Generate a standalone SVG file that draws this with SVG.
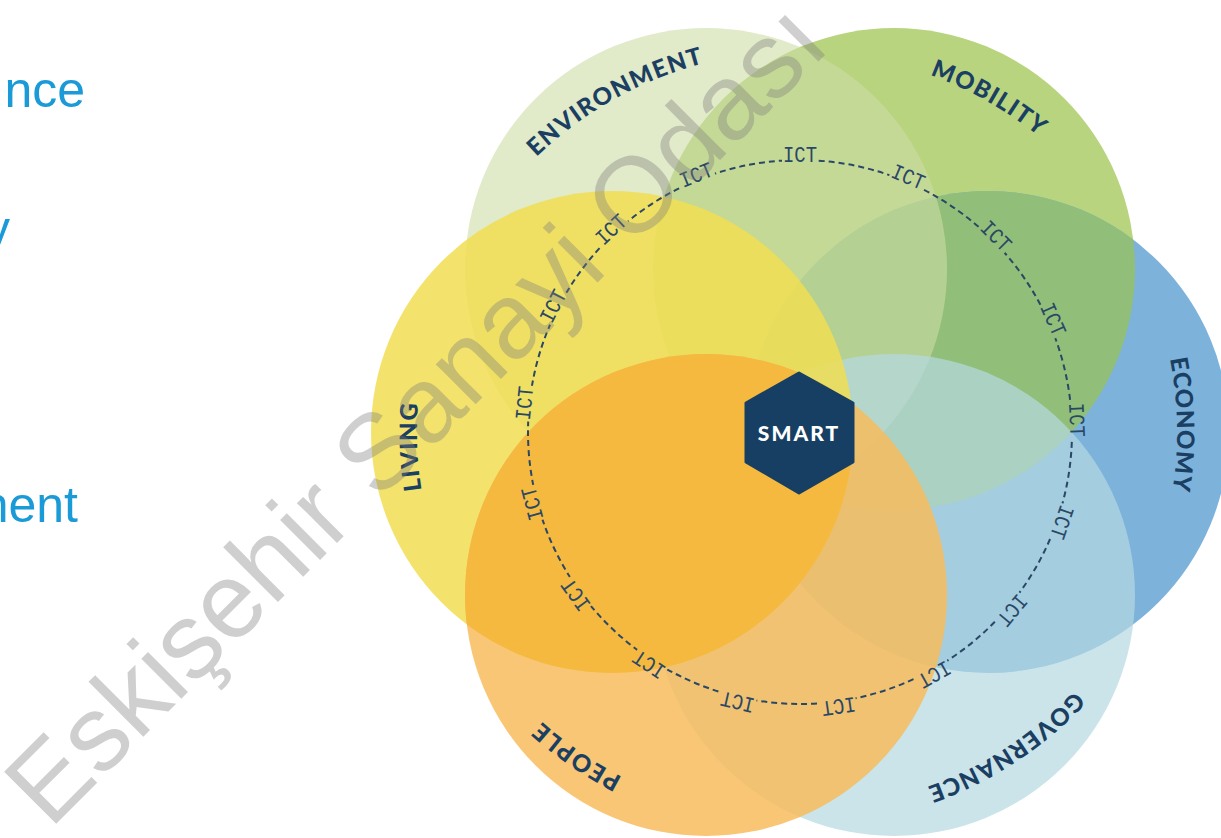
<svg xmlns="http://www.w3.org/2000/svg" xmlns:xlink="http://www.w3.org/1999/xlink" width="1221" height="838" viewBox="0 0 1221 838">
<style>
.lbl{font-family:Lato,"Open Sans","DejaVu Sans",sans-serif;font-weight:900;font-size:24px;fill:#1b3f62;letter-spacing:1.2px}
.ict{font-family:"Liberation Mono","DejaVu Sans Mono",monospace;font-size:22px;fill:#2a4866}
.side{font-family:"Liberation Sans",Arial,sans-serif;font-size:50px;fill:#1a9ad6}
.wm{font-family:"Liberation Sans",Arial,sans-serif;font-weight:400;font-size:107px;fill:#7a7a7a;fill-opacity:0.36}
</style>
<defs>
<path id="lp" d="M800,55 A377,377 0 1 1 800,809 A377,377 0 1 1 800,55"/>
<clipPath id="clipM"><circle cx="894" cy="269" r="241"/></clipPath>
<clipPath id="clipL"><circle cx="612" cy="432" r="241"/></clipPath>
<mask id="gaps" maskUnits="userSpaceOnUse" x="0" y="0" width="1221" height="838">
<rect x="0" y="0" width="1221" height="838" fill="#fff"/>
<g fill="#000">
<rect x="782" y="148" width="36" height="22" transform="rotate(0 800 432)"/>
<rect x="782" y="148" width="36" height="22" transform="rotate(23 800 432)"/>
<rect x="782" y="148" width="36" height="22" transform="rotate(45 800 432)"/>
<rect x="782" y="148" width="36" height="22" transform="rotate(66 800 432)"/>
<rect x="782" y="148" width="36" height="22" transform="rotate(87.5 800 432)"/>
<rect x="782" y="148" width="36" height="22" transform="rotate(109 800 432)"/>
<rect x="782" y="148" width="36" height="22" transform="rotate(130 800 432)"/>
<rect x="782" y="148" width="36" height="22" transform="rotate(151 800 432)"/>
<rect x="782" y="148" width="36" height="22" transform="rotate(172 800 432)"/>
<rect x="782" y="148" width="36" height="22" transform="rotate(-167 800 432)"/>
<rect x="782" y="148" width="36" height="22" transform="rotate(-147 800 432)"/>
<rect x="782" y="148" width="36" height="22" transform="rotate(-126 800 432)"/>
<rect x="782" y="148" width="36" height="22" transform="rotate(-105 800 432)"/>
<rect x="782" y="148" width="36" height="22" transform="rotate(-84 800 432)"/>
<rect x="782" y="148" width="36" height="22" transform="rotate(-63 800 432)"/>
<rect x="782" y="148" width="36" height="22" transform="rotate(-43 800 432)"/>
<rect x="782" y="148" width="36" height="22" transform="rotate(-22 800 432)"/>
</g>
</mask>
</defs>
<rect x="0" y="0" width="1221" height="838" fill="#ffffff"/>

<g id="side-text">
<text class="side" x="85" y="107" text-anchor="end">nce</text>
<text class="side" x="10" y="246" text-anchor="end">y</text>
<text class="side" x="78" y="522" text-anchor="end">nent</text>
</g>

<g id="node-mobility">
<circle cx="894" cy="269" r="241" fill="#b9d47f"/>
<text class="lbl" dy="-3"><textPath href="#lp" xlink:href="#lp" startOffset="8.2%" text-anchor="middle">MOBILITY</textPath></text>
</g>
<g id="node-economy">
<circle cx="988" cy="432" r="241" fill="#7db2da"/>
<text class="lbl"><textPath href="#lp" xlink:href="#lp" startOffset="24.7%" text-anchor="middle">ECONOMY</textPath></text>
</g>
<g id="overlap-mobility-economy">
<circle cx="988" cy="432" r="241" fill="#91bf79" clip-path="url(#clipM)"/>
</g>
<g id="node-environment">
<circle cx="706" cy="269" r="241" fill="#cddca5" fill-opacity="0.6"/>
<text class="lbl" dy="-4"><textPath href="#lp" xlink:href="#lp" startOffset="91.9%" text-anchor="middle">ENVIRONMENT</textPath></text>
</g>
<g id="node-governance">
<circle cx="894" cy="595" r="241" fill="#b5d8e1" fill-opacity="0.7"/>
<text class="lbl"><textPath href="#lp" xlink:href="#lp" startOffset="40.8%" text-anchor="middle">GOVERNANCE</textPath></text>
</g>
<g id="node-living">
<circle cx="612" cy="432" r="241" fill="#f1de52" fill-opacity="0.85"/>
<text class="lbl" dy="-6"><textPath href="#lp" xlink:href="#lp" startOffset="74.4%" text-anchor="middle">LIVING</textPath></text>
</g>
<g id="node-people">
<circle cx="706" cy="595" r="241" fill="#f7bc5d" fill-opacity="0.85"/>
<text class="lbl" dy="-11"><textPath href="#lp" xlink:href="#lp" startOffset="59.6%" text-anchor="middle">PEOPLE</textPath></text>
</g>
<g id="overlap-living-people">
<circle cx="706" cy="595" r="241" fill="#f5b940" clip-path="url(#clipL)"/>
</g>

<g id="connectors">
<circle cx="800" cy="432" r="272" fill="none" stroke="#2a4866" stroke-width="2" stroke-dasharray="6 4" mask="url(#gaps)"/>
<g id="ict-labels">
<text class="ict" x="800" y="162" text-anchor="middle" textLength="34" lengthAdjust="spacingAndGlyphs" transform="rotate(0 800 432)">ICT</text>
<text class="ict" x="800" y="162" text-anchor="middle" textLength="34" lengthAdjust="spacingAndGlyphs" transform="rotate(23 800 432)">ICT</text>
<text class="ict" x="800" y="162" text-anchor="middle" textLength="34" lengthAdjust="spacingAndGlyphs" transform="rotate(45 800 432)">ICT</text>
<text class="ict" x="800" y="162" text-anchor="middle" textLength="34" lengthAdjust="spacingAndGlyphs" transform="rotate(66 800 432)">ICT</text>
<text class="ict" x="800" y="162" text-anchor="middle" textLength="34" lengthAdjust="spacingAndGlyphs" transform="rotate(87.5 800 432)">ICT</text>
<text class="ict" x="800" y="162" text-anchor="middle" textLength="34" lengthAdjust="spacingAndGlyphs" transform="rotate(109 800 432)">ICT</text>
<text class="ict" x="800" y="162" text-anchor="middle" textLength="34" lengthAdjust="spacingAndGlyphs" transform="rotate(130 800 432)">ICT</text>
<text class="ict" x="800" y="162" text-anchor="middle" textLength="34" lengthAdjust="spacingAndGlyphs" transform="rotate(151 800 432)">ICT</text>
<text class="ict" x="800" y="162" text-anchor="middle" textLength="34" lengthAdjust="spacingAndGlyphs" transform="rotate(172 800 432)">ICT</text>
<text class="ict" x="800" y="162" text-anchor="middle" textLength="34" lengthAdjust="spacingAndGlyphs" transform="rotate(-167 800 432)">ICT</text>
<text class="ict" x="800" y="162" text-anchor="middle" textLength="34" lengthAdjust="spacingAndGlyphs" transform="rotate(-147 800 432)">ICT</text>
<text class="ict" x="800" y="162" text-anchor="middle" textLength="34" lengthAdjust="spacingAndGlyphs" transform="rotate(-126 800 432)">ICT</text>
<text class="ict" x="800" y="162" text-anchor="middle" textLength="34" lengthAdjust="spacingAndGlyphs" transform="rotate(-105 800 432)">ICT</text>
<text class="ict" x="800" y="162" text-anchor="middle" textLength="34" lengthAdjust="spacingAndGlyphs" transform="rotate(-84 800 432)">ICT</text>
<text class="ict" x="800" y="162" text-anchor="middle" textLength="34" lengthAdjust="spacingAndGlyphs" transform="rotate(-63 800 432)">ICT</text>
<text class="ict" x="800" y="162" text-anchor="middle" textLength="34" lengthAdjust="spacingAndGlyphs" transform="rotate(-43 800 432)">ICT</text>
<text class="ict" x="800" y="162" text-anchor="middle" textLength="34" lengthAdjust="spacingAndGlyphs" transform="rotate(-22 800 432)">ICT</text>
</g>
</g>

<g id="node-smart">
<polygon points="799,373 853,403 853,462 799,493 746,462 746,403" fill="#173f63" stroke="#173f63" stroke-width="3" stroke-linejoin="round"/>
<text x="799" y="441" text-anchor="middle" style="font-family:Lato,'Open Sans',sans-serif;font-weight:900;font-size:21px;fill:#ffffff;letter-spacing:2px">SMART</text>
</g>

<g id="watermark">
<text class="wm" transform="translate(50 830) rotate(-45)">Eskişehir Sanayi Odası</text>
</g>
</svg>
